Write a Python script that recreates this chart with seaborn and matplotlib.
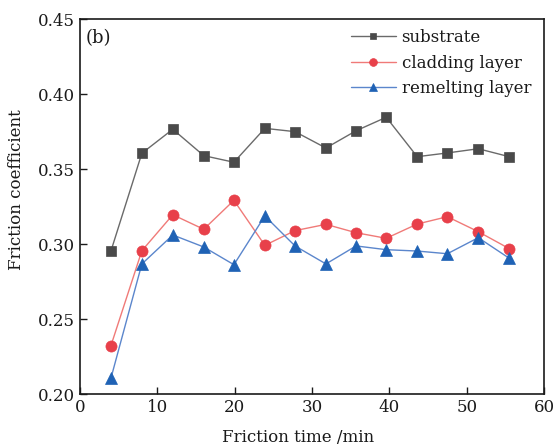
import matplotlib
matplotlib.use("Agg")
import matplotlib.pyplot as plt
import seaborn as sns
import pandas as pd

time_min = [4, 8, 12, 16, 19.9, 23.9, 27.8, 31.8, 35.7, 39.6, 43.6, 47.5, 51.5, 55.5]
substrate = [0.2955, 0.3607, 0.3767, 0.3591, 0.3547, 0.3773, 0.3751, 0.3642,
             0.3757, 0.3847, 0.3584, 0.3609, 0.3637, 0.3584]
cladding = [0.2324, 0.2957, 0.3197, 0.3100, 0.3293, 0.2993, 0.3091, 0.3133,
            0.3077, 0.3040, 0.3135, 0.3184, 0.3084, 0.2971]
remelting = [0.2107, 0.2869, 0.3062, 0.2982, 0.2864, 0.3189, 0.2989, 0.2869,
             0.2989, 0.2964, 0.2955, 0.2937, 0.3044, 0.2907]
series_names = ["substrate", "cladding layer", "remelting layer"]
x_ticks = [0, 10, 20, 30, 40, 50, 60]
y_ticks = [0.20, 0.25, 0.30, 0.35, 0.40, 0.45]

sns.set_theme(style="ticks")
plt.rcParams["font.family"] = ["DejaVu Serif"]
plt.rcParams["mathtext.fontset"] = "dejavuserif"

df = pd.concat([
    pd.DataFrame({"t": time_min, "mu": vals, "series": name})
    for name, vals in zip(series_names, [substrate, cladding, remelting])
])

fig = plt.figure(figsize=(5.54, 4.45), dpi=100)
ax = fig.add_axes([0.1444, 0.114, 0.8376, 0.8426])

styles = {
    "substrate": dict(line="#6a6a6a", marker="s", mcolor="#4a4a4a", ms=7),
    "cladding layer": dict(line="#f07a78", marker="o", mcolor="#e8404a", ms=8),
    "remelting layer": dict(line="#5b86cc", marker="^", mcolor="#1f62b5", ms=9),
}
for name in series_names:
    st = styles[name]
    sns.lineplot(data=df[df["series"] == name], x="t", y="mu", ax=ax,
                 color=st["line"], lw=1.0, marker=st["marker"],
                 markersize=st["ms"], markerfacecolor=st["mcolor"],
                 markeredgecolor=st["mcolor"], markeredgewidth=0.5,
                 label=name, estimator=None, sort=False)

ax.set_xlim(0, 60)
ax.set_ylim(0.20, 0.45)
ax.set_xticks(x_ticks)
ax.set_yticks(y_ticks)
ax.set_xticklabels([str(v) for v in x_ticks])
ax.set_yticklabels([f"{v:.2f}" for v in y_ticks])
ax.tick_params(direction="in", length=5, width=1.0, labelsize=12,
               top=False, right=False, colors="#1a1a1a", labelcolor="#1a1a1a")
for sp in ax.spines.values():
    sp.set_linewidth(1.2)
    sp.set_color("#1a1a1a")
    sp.set_visible(True)
ax.set_xlabel("Friction time /min", fontsize=12, color="#1a1a1a")
ax.set_ylabel("Friction coefficient", fontsize=12, color="#1a1a1a")
ax.xaxis.set_label_coords(0.471, -0.093)
ax.yaxis.set_label_coords(-0.1185, 0.547)
ax.text(0.012, 0.975, "(b)", transform=ax.transAxes, fontsize=13,
        va="top", ha="left", color="#1a1a1a")
leg = ax.legend(loc="upper right", bbox_to_anchor=(0.9935, 1.0), frameon=False,
                fontsize=12, handlelength=2.7, handletextpad=0.35,
                labelspacing=0.5, borderaxespad=0.2, markerscale=0.7)
for t in leg.get_texts():
    t.set_color("#1a1a1a")

fig.savefig("out.png", dpi=100)
